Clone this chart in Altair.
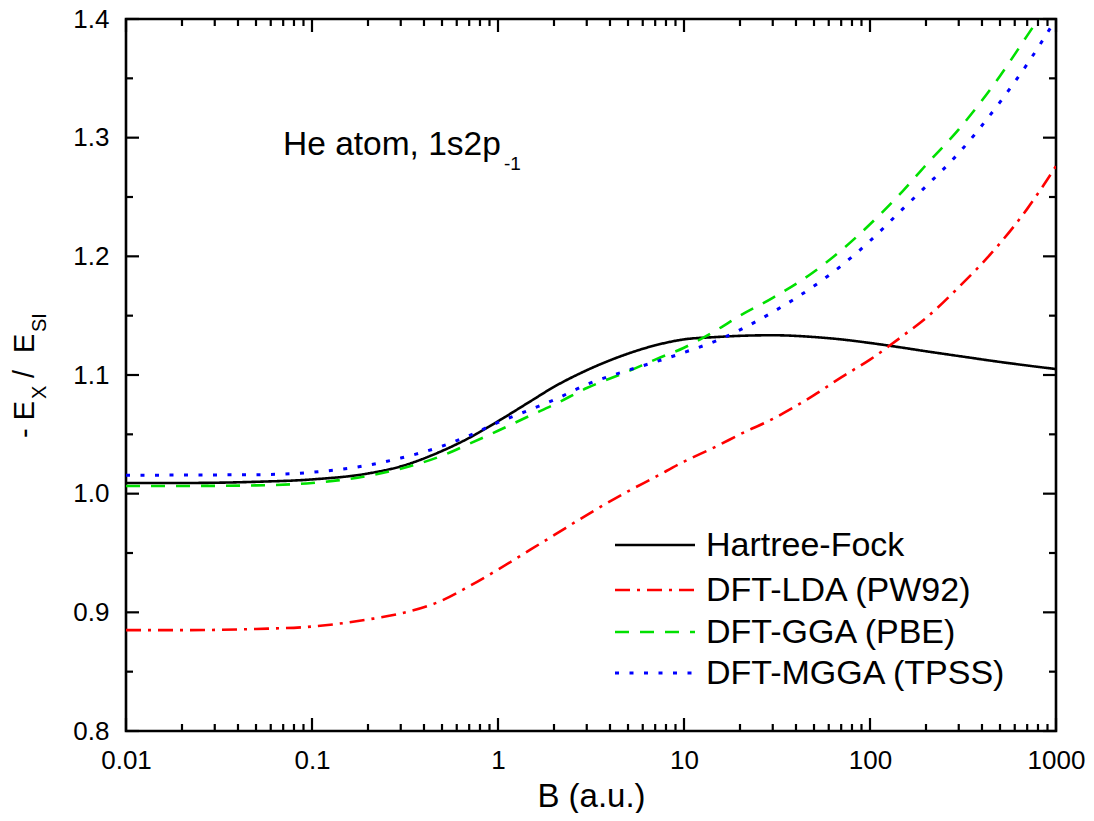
import altair as alt
import pandas as pd

# ---------------- data ----------------
B = [0.01, 0.02, 0.05, 0.1, 0.2, 0.3, 0.5, 0.7, 1, 1.5, 2, 3, 5, 7, 10,
     15, 20, 30, 50, 70, 100, 150, 200, 300, 500, 700, 1000]
HF = [1.009, 1.009, 1.010, 1.012, 1.017, 1.023, 1.036, 1.047, 1.061, 1.078,
      1.090, 1.104, 1.118, 1.125, 1.130, 1.132, 1.133, 1.1335, 1.132, 1.130,
      1.127, 1.123, 1.120, 1.116, 1.111, 1.108, 1.105]
LDA = [0.885, 0.885, 0.886, 0.888, 0.894, 0.899, 0.910, 0.922, 0.936, 0.953,
       0.965, 0.982, 1.002, 1.014, 1.027, 1.040, 1.050, 1.063, 1.083, 1.098,
       1.113, 1.133, 1.148, 1.174, 1.211, 1.240, 1.276]
GGA = [1.0065, 1.0065, 1.007, 1.009, 1.015, 1.021, 1.032, 1.042, 1.053, 1.066,
       1.075, 1.089, 1.103, 1.113, 1.123, 1.138, 1.150, 1.165, 1.187, 1.205,
       1.227, 1.255, 1.277, 1.307, 1.352, 1.386, 1.422]
MGGA = [1.0155, 1.0157, 1.016, 1.018, 1.024, 1.030, 1.040, 1.049, 1.060, 1.071,
        1.079, 1.092, 1.104, 1.111, 1.119, 1.129, 1.138, 1.153, 1.175, 1.192,
        1.213, 1.240, 1.259, 1.287, 1.330, 1.362, 1.400]

SERIES = ["Hartree-Fock", "DFT-LDA (PW92)", "DFT-GGA (PBE)", "DFT-MGGA (TPSS)"]
COLORS = ["#000000", "#ff0000", "#00e000", "#0000ff"]
DASHES = [[1, 0], [15, 7, 3, 7], [14, 11], [4, 10.5]]
WIDTHS = [2.6, 2.6, 2.6, 3.0]

X_MAJOR = [0.01, 0.1, 1, 10, 100, 1000]
X_MINOR = [m * d for d in [0.01, 0.1, 1, 10, 100] for m in range(2, 10)]
Y_MAJOR = [0.8, 0.9, 1.0, 1.1, 1.2, 1.3, 1.4]
Y_MINOR = [0.85, 0.95, 1.05, 1.15, 1.25, 1.35]

W, H = 930, 712
FONT = "Liberation Sans"

xscale = alt.Scale(type="log", domain=[0.01, 1000], nice=False)
yscale = alt.Scale(domain=[0.8, 1.4], nice=False, zero=False)

XAXIS = alt.Axis(values=X_MAJOR, format="~g", title="B (a.u.)",
                 ticks=False, domain=False, grid=False,
                 labelFont=FONT, labelFontSize=26, labelColor="black",
                 labelPadding=16, labelFlush=False,
                 titleFont=FONT, titleFontSize=33, titleFontWeight="normal",
                 titleColor="black", titleBaseline="alphabetic", titleY=75)
YAXIS = alt.Axis(values=Y_MAJOR, format=".1f", title=None,
                 ticks=False, domain=False, grid=False,
                 labelFont=FONT, labelFontSize=26, labelColor="black",
                 labelPadding=17, labelFlush=False)

rows = []
for name, ys in zip(SERIES, [HF, LDA, GGA, MGGA]):
    for b, v in zip(B, ys):
        rows.append({"B": b, "E": v, "series": name})
df = pd.DataFrame(rows)

layers = []
for i, name in enumerate(SERIES):
    sub = df[df.series == name]
    layers.append(
        alt.Chart(sub).mark_line(color=COLORS[i], strokeDash=DASHES[i],
                                 strokeWidth=WIDTHS[i], clip=True,
                                 interpolate="monotone")
        .encode(x=alt.X("B:Q", scale=xscale, axis=XAXIS),
                y=alt.Y("E:Q", scale=yscale, axis=YAXIS),
                order="B:Q")
    )

# ---------------- inward ticks on all four sides ----------------
def xticks(vals, y0, y1):
    return alt.Chart(pd.DataFrame({"B": vals})).mark_rule(
        color="black", strokeWidth=2.2).encode(
        x=alt.X("B:Q", scale=xscale, axis=XAXIS),
        y=alt.value(y0), y2=alt.value(y1))

def yticks(vals, x0, x1):
    return alt.Chart(pd.DataFrame({"E": vals})).mark_rule(
        color="black", strokeWidth=2.2).encode(
        y=alt.Y("E:Q", scale=yscale, axis=YAXIS),
        x=alt.value(x0), x2=alt.value(x1))

MAJ, MIN = 13, 7
layers += [
    xticks(X_MAJOR, H, H - MAJ), xticks(X_MINOR, H, H - MIN),
    xticks(X_MAJOR, 0, MAJ), xticks(X_MINOR, 0, MIN),
    yticks(Y_MAJOR, 0, MAJ), yticks(Y_MINOR, 0, MIN),
    yticks(Y_MAJOR, W, W - MAJ), yticks(Y_MINOR, W, W - MIN),
]

# ---------------- text helpers ----------------
def label(text, x, y, size, angle=0, align="left", baseline="alphabetic"):
    kw = dict(align=align, baseline=baseline, font=FONT, fontSize=size, color="black")
    if angle:
        kw["angle"] = angle
    return alt.Chart(pd.DataFrame({"t": [text]})).mark_text(**kw).encode(
        text="t:N", x=alt.value(x), y=alt.value(y))

# y-axis title:  - E_X / E_SI  (rotated, with subscripts)
layers += [
    label("- E", -92, 419, 29, angle=270),
    label("X", -80, 380, 20, angle=270),
    label("/", -92, 359, 29, angle=270),
    label("E", -92, 334, 29, angle=270),
    label("SI", -80, 313, 20, angle=270),
]

# annotation
layers += [
    label("He atom, 1s2p", 157, 136, 33.5),
    label("-1", 378, 151, 19),
]

# legend (manual)
LEG_Y = [526, 571, 613, 654]
for i, name in enumerate(SERIES):
    layers.append(
        alt.Chart(pd.DataFrame({"s": [name]})).mark_rule(
            color=COLORS[i], strokeDash=DASHES[i], strokeWidth=WIDTHS[i]).encode(
            x=alt.value(489), x2=alt.value(569), y=alt.value(LEG_Y[i]))
    )
    layers.append(label(name, 580, LEG_Y[i] + 1, 34, baseline="middle"))

chart = alt.layer(*layers).properties(
    width=W, height=H,
    autosize=alt.AutoSizeParams(type="none"),
    padding={"left": 118, "top": 11, "right": 30, "bottom": 82},
).configure(background="white").configure_view(stroke="black", strokeWidth=2.6)

chart.save("out.html", embed_options={"renderer": "svg", "actions": False})
